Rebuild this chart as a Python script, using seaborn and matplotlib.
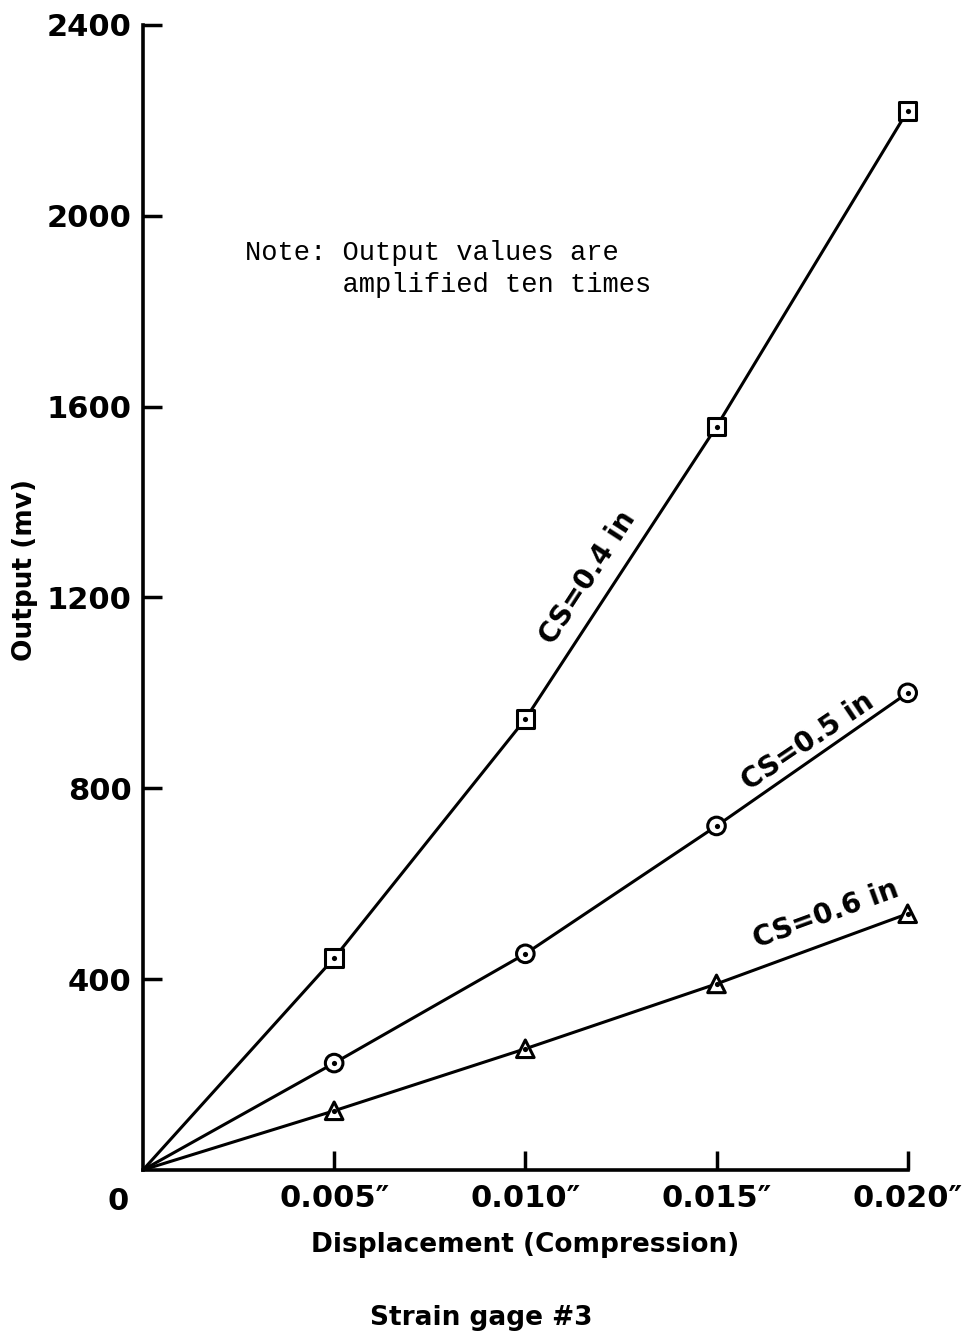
import matplotlib.pyplot as plt
import pandas as pd
import numpy as np
import seaborn as sns

# values
displacement = [0.0, 0.005, 0.010, 0.015, 0.020]
out_cs04 = [0, 444, 945, 1558, 2220]
out_cs05 = [0, 224, 453, 721, 1000]
out_cs06 = [0, 124, 254, 390, 537]
series = ["CS=0.4 in", "CS=0.5 in", "CS=0.6 in"]
x_ticks = [0.005, 0.010, 0.015, 0.020]
x_ticklabels = ["0.005\u2033", "0.010\u2033", "0.015\u2033", "0.020\u2033"]
y_ticks = [400, 800, 1200, 1600, 2000, 2400]
y_ticklabels = ["400", "800", "1200", "1600", "2000", "2400"]

df = pd.DataFrame({
    "disp": displacement * 3,
    "out": out_cs04 + out_cs05 + out_cs06,
    "cs": np.repeat(series, len(displacement)),
})
pts = df[df["disp"] > 0]

sns.set_theme(style="ticks")
plt.rcParams["font.family"] = ["DejaVu Sans"]
plt.rcParams["text.color"] = "black"
plt.rcParams["axes.labelcolor"] = "black"

fig = plt.figure(figsize=(9.68, 13.38), dpi=100)
ax = fig.add_axes([0.1477, 0.1256, 0.790, 0.8558])

sns.lineplot(data=df, x="disp", y="out", units="cs", estimator=None,
             color="black", linewidth=2.2, ax=ax, legend=False)
sns.scatterplot(data=pts, x="disp", y="out", style="cs",
                markers={"CS=0.4 in": "s", "CS=0.5 in": "o", "CS=0.6 in": "^"},
                s=160, facecolor="white", edgecolor="black", linewidth=2.2,
                ax=ax, legend=False, zorder=3, clip_on=False)
sns.scatterplot(data=pts, x="disp", y="out", color="black", s=14,
                linewidth=0, ax=ax, legend=False, zorder=4, clip_on=False)

ax.set_xlim(0, 0.020)
ax.set_ylim(0, 2400)
ax.set_xticks(x_ticks)
ax.set_xticklabels(x_ticklabels)
ax.set_yticks(y_ticks)
ax.set_yticklabels(y_ticklabels)
ax.tick_params(direction="in", length=14, width=2.5, labelsize=22,
               color="black", labelcolor="black")
ax.tick_params(axis="x", pad=10)
ax.tick_params(axis="y", pad=8)
for lab in ax.get_xticklabels() + ax.get_yticklabels():
    lab.set_fontweight("bold")
for side in ["top", "right"]:
    ax.spines[side].set_visible(False)
for side in ["left", "bottom"]:
    ax.spines[side].set_linewidth(2.6)
    ax.spines[side].set_color("black")

ax.annotate("0", xy=(0, 0), xytext=(-18, -12), textcoords="offset points",
            ha="center", va="top", fontsize=22, fontweight="bold")

ax.set_xlabel("Displacement (Compression)", fontsize=19, fontweight="bold",
              labelpad=14)
ax.set_ylabel("")
fig.text(0.026, 0.574, "Output (mv)", rotation=90, ha="center", va="center",
         fontsize=19, fontweight="bold")
fig.text(0.497, 0.005, "Strain gage #3", ha="center", va="bottom",
         fontsize=19, fontweight="bold")

ax.text(0.00268, 1950, "Note: Output values are\n      amplified ten times",
        family=["Liberation Mono", "DejaVu Sans Mono"], fontsize=19.5,
        ha="left", va="top", linespacing=1.3)

label_pos = [(0.01163, 1241, 57), (0.01739, 897, 34), (0.01786, 535, 20)]
for name, (lx, ly, rot) in zip(series, label_pos):
    ax.text(lx, ly, name, rotation=rot, rotation_mode="anchor",
            ha="center", va="center", fontsize=20, fontweight="bold")

fig.savefig("out.png", dpi=100, facecolor="white")
